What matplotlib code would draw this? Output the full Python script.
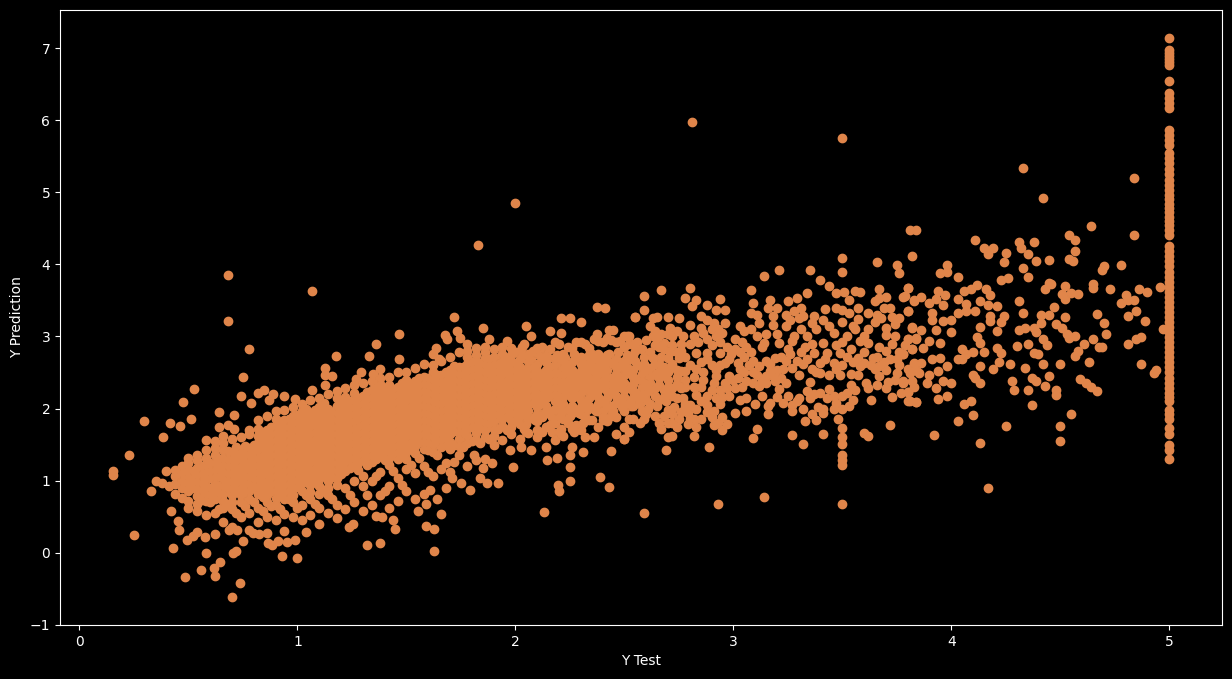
import matplotlib
matplotlib.use("Agg")
import matplotlib.pyplot as plt

# points, (y_test, y_pred)
outliers = [(0.68,3.85),(1.065,3.63),(0.68,3.22),(0.777,2.83),(1.177,2.73),(0.75,2.44),(0.524,2.27),(0.474,2.09),
    (0.298,1.82),(0.414,1.80),(0.46,1.76),(0.51,1.86),(0.383,1.61),(0.226,1.36),(0.153,1.14),(0.153,1.08),(0.396,1.13),
    (0.35,1.0),(0.377,0.97),(0.41,0.92),(0.327,0.85),(0.42,0.58),(0.25,0.25),(0.43,0.07),(0.485,-0.34),(0.556,-0.24),
    (0.58,0.0),(0.615,-0.21),(0.643,-0.13),(0.62,-0.33),(0.735,-0.42),(0.70,-0.615),(0.75,0.16),(0.705,0.0),(0.717,0.02),
    (0.93,-0.04),(1.0,-0.08),(0.865,0.13),(0.885,0.11),(0.91,0.16),(0.95,0.15),(0.99,0.18),(1.04,0.29),(0.575,0.22),
    (0.495,0.18),(0.52,0.23),(0.54,0.29),(0.62,0.26),(0.455,0.32),(0.45,0.44),(0.685,0.32),(0.725,0.32),(0.795,0.28),
    (0.825,0.26),(0.74,2.18),(0.785,2.08),(0.82,2.22),(0.845,2.25),(0.89,2.2),(0.87,2.12),(0.94,2.17),(0.99,2.13),
    (1.065,2.25),(1.125,2.56),(1.125,2.46),(1.16,2.45),(1.125,2.33),(0.64,1.95),(0.71,1.91),(0.64,1.74),(0.68,1.77),
    (0.71,1.72),(0.78,1.70),(2.0,4.85),(1.83,4.27),(2.81,5.98),(3.5,5.75),(4.17,0.90),(4.97,3.10)]

upper_edge = [(1.72,3.27),(1.85,3.12),(1.73,3.08),(1.745,2.98),(1.465,3.04),(1.36,2.9),(1.33,2.73),(1.465,2.68),(1.38,2.55),
    (1.345,2.48),(1.29,2.51),(1.27,2.41),(1.675,3.02),(1.685,2.96),(1.635,2.84),(1.62,2.76),(1.65,2.68),(1.78,2.9),
    (1.88,2.96),(1.96,2.93),(2.05,3.14),(2.07,3.01),(2.04,2.9),(2.16,3.07),(2.21,3.05),(2.21,3.25),(2.25,3.25),(2.3,3.2),
    (2.375,3.41),(2.41,3.4),(2.375,3.04),(2.43,3.09),(2.45,3.09),(2.5,3.0),(2.52,3.0),(2.55,3.27)]

lower_edge = [(1.625,0.03),(1.32,0.11),(1.38,0.14),(1.625,0.33),(1.59,0.37),(1.45,0.33),(1.44,0.46),(1.255,0.4),(1.235,0.35),
    (1.66,0.53),(1.36,0.51),(1.39,0.5),(1.555,0.58),(1.59,0.68),(1.64,0.75),(1.3,0.58),(1.79,0.87),(1.68,0.9),(1.61,0.87),
    (2.13,0.57),(1.92,0.97),(1.87,0.96),(1.84,1.03),(1.99,1.19),(1.85,1.17),(2.2,0.86),(2.195,0.94),(2.25,0.99),(2.25,1.19),
    (2.39,1.05),(2.43,0.91),(2.44,1.41),(2.31,1.39),(2.145,1.28),(2.19,1.32),(2.25,1.36),(2.07,1.43),(2.025,1.47),(1.975,1.43),
    (1.81,1.36),(1.72,1.26),(1.895,1.24),(1.75,0.96),(1.71,1.03),(2.46,1.64),(2.5,1.58),(2.36,1.6),(2.32,1.61)]

mid_cloud = [(3.81,4.48),(3.84,4.48),(2.59,3.56),(2.67,3.65),(2.80,3.67),(2.78,3.53),(2.83,3.51),(2.88,3.44),(2.94,3.52),(2.96,3.37),
    (2.81,3.42),(2.59,3.37),(2.55,3.27),(2.63,3.26),(2.65,3.27),(2.70,3.27),(2.75,3.26),(2.62,3.14),(2.71,3.12),(2.80,3.16),
    (2.85,3.28),(2.88,3.23),(2.92,3.37),(2.91,3.19),(2.96,3.19),(2.85,3.12),(3.08,3.65),(3.14,3.84),(3.21,3.92),(3.35,3.92),
    (3.50,4.09),(3.50,3.90),(3.66,4.03),(3.75,3.99),(3.76,3.88),(3.82,4.12),(3.40,3.78),(3.44,3.70),(3.47,3.60),(3.34,3.60),
    (3.25,3.49),(3.29,3.53),(3.17,3.51),(3.20,3.40),(3.16,3.40),(3.09,3.47),(3.08,3.33),(3.11,3.30),(3.18,3.28),(3.18,3.16),
    (3.03,3.14),(3.05,3.07),(3.26,3.23),(3.24,3.14),(3.31,3.40),(3.32,3.28),(3.37,3.28),(3.41,3.23),(3.42,3.38),(3.47,3.40),
    (3.50,3.37),(3.53,3.33),(3.51,3.62),(3.53,3.51),(3.56,3.63),(3.58,3.62),(3.57,3.40),(3.57,3.24),(3.62,3.33),(3.62,3.10),
    (3.67,3.66),(3.65,3.49),(3.67,3.53),(3.70,3.55),(3.69,3.40),(3.72,3.40),(3.68,3.26),(3.76,3.26),(3.74,3.17),(3.80,3.67),
    (3.78,3.55),(3.83,3.51),(3.80,3.35),(3.82,3.13),(3.80,2.97),(3.84,2.98),(3.70,3.02),(3.73,2.89),(3.82,2.83),(3.78,2.76),
    (3.75,2.69),(3.72,2.68),(3.64,2.70),(3.60,3.00),(3.62,2.91),(3.67,2.59),(3.60,2.63),(3.57,2.46),(3.61,2.35),(3.62,2.29),
    (3.67,2.45),(3.70,2.54),(3.75,2.49),(3.83,2.63),(3.85,2.49),(3.78,2.35),(3.70,2.29),(3.80,2.23),(3.73,2.16),(3.80,2.10),
    (3.84,2.09),(3.63,2.12),(3.72,1.77),(3.60,1.66),(3.62,1.62),(3.50,1.73),(3.50,1.61),(3.50,1.51),(3.50,1.35),(3.50,1.29),
    (3.50,1.22),(3.50,0.68),(3.48,1.86),(3.41,1.65),(3.32,1.51),(3.27,1.63),(3.11,1.72),(3.09,1.59),(3.14,0.77),(2.93,0.68),
    (2.59,0.55),(2.89,1.47),(2.69,1.42),(2.82,1.62),(2.70,1.61),(2.72,1.62),(2.50,1.58),(2.52,1.67),(2.95,1.70),(2.97,1.79),
    (2.91,1.77),(2.95,1.88),(2.90,1.88),(3.01,1.94),(3.06,1.97),(3.16,1.92),(3.17,2.08),(3.16,2.03),(3.13,2.17),(3.06,2.15),
    (3.03,2.12),(3.10,2.06),(3.23,2.08),(3.27,1.96),(3.27,2.05),(3.32,1.99),(3.33,1.83),(3.38,1.84),(3.41,1.94),(3.41,1.99),
    (3.46,1.99),(3.50,1.99),(3.55,2.12),(3.52,2.22),(3.54,2.33),(3.44,2.27),(3.40,2.22),(3.34,2.24),(3.30,2.15),(3.35,2.15),
    (3.46,2.17),(3.50,2.17),(3.21,2.27),(3.24,2.36),(3.18,2.45),(3.15,2.45),(3.20,2.54),(3.27,2.56),(3.30,2.47),(3.35,2.37),
    (3.40,2.49),(3.44,2.47),(3.49,2.47),(3.54,2.48),(3.58,2.59),(3.46,2.63),(3.40,2.63),(3.49,2.77),(3.43,2.77),(3.37,2.77),
    (3.31,2.79),(3.27,2.93),(3.34,3.00),(3.31,3.10),(3.38,3.10),(3.46,3.05),(3.52,3.00),(3.54,2.82),(3.41,2.91),(3.21,2.91),
    (3.20,3.03),(3.15,3.03),(3.11,3.00),(3.14,2.91),(3.08,2.79),(3.09,2.66),(3.12,2.59),(3.15,2.66),(3.06,2.38),(3.09,2.35),
    (3.12,2.31),(3.02,2.63),(3.01,2.82),(3.01,2.96),(3.00,2.40),(3.01,2.28),(2.98,2.17),(2.94,2.06),(2.51,3.00),(2.56,2.84),
    (2.63,3.00),(2.68,2.91),(2.72,3.00),(2.77,3.00),(2.82,3.00),(2.88,2.96),(2.92,3.00),(2.95,3.05),(2.83,2.77),(2.88,2.77),
    (2.94,2.77),(2.96,2.63),(2.92,2.54),(2.88,2.68),(2.86,2.40),(2.91,2.35),(2.94,2.26),(2.88,2.17),(2.83,2.19),(2.92,2.45),
    (2.98,2.45),(2.79,1.94),(2.85,1.85),(2.75,1.85),(2.72,1.80),(2.66,1.80),(2.67,1.71),(2.79,1.78),(2.83,1.74),(2.59,1.85),
    (2.54,1.85),(2.50,1.75)]

mid_extra = [(2.64,3.08),(2.67,3.04),(2.65,2.97),(2.70,3.03),(2.74,3.08),(2.76,2.9),(2.8,2.9),(2.84,2.92),(2.86,3.05),(2.9,3.1),
    (2.93,3.1),(2.9,2.88),(2.94,2.92),(2.97,2.85),(2.99,2.76),(2.98,2.68),(2.85,2.64),(2.9,2.6),(2.94,2.6),(2.83,2.55),
    (2.86,2.5),(2.82,2.44),(2.85,2.3),(2.82,2.3),(2.9,2.25),(2.96,2.35),(2.97,2.28),(2.92,2.14),(2.95,2.16),(2.88,2.05),
    (2.85,2.1),(2.83,2.0),(2.8,2.05),(2.78,2.02),(2.76,1.95),(2.72,1.92),(2.68,1.9),(2.64,1.9),(2.6,1.92),(2.57,1.8),
    (2.52,1.85),(2.88,1.95),(2.91,1.96),(2.82,1.86),(2.8,1.86),(2.74,1.74),(2.7,1.8),(2.93,1.8),(3.04,2.92),(3.06,2.86),
    (3.03,2.78),(3.05,2.72),(3.07,2.6),(3.03,2.55),(3.05,2.5),(3.02,2.42),(3.04,2.3),(3.09,2.5),(3.11,2.46),(3.13,2.4),
    (3.15,2.35),(3.17,2.52),(3.19,2.38),(3.22,2.42),(3.23,2.55),(3.17,2.62),(3.19,2.7),(3.22,2.72),(3.24,2.66),(3.26,2.76),
    (3.29,2.66),(3.32,2.62),(3.34,2.68),(3.36,2.55),(3.38,2.5),(3.33,2.85),(3.36,2.9),(3.28,3.0),(3.25,2.82),(3.42,2.68),
    (3.47,2.55),(3.5,2.6),(3.52,2.72),(3.55,2.64),(3.57,2.7),(3.6,2.78),(3.47,2.88),(3.5,2.92),(3.56,3.1),(3.58,2.94),
    (3.24,3.3),(3.28,3.35),(3.3,3.25),(3.36,3.18),(3.44,3.15),(3.5,3.2),(3.55,3.15),(3.65,3.2),(3.7,3.12),(3.66,3.3),
    (3.73,3.27),(3.12,3.18),(3.08,3.1),(3.13,2.85),(3.39,2.02),(3.37,2.2),(3.43,2.15),(3.47,2.08),(3.53,2.03),(3.29,2.1),
    (3.25,2.17),(3.2,2.16),(3.36,1.93),(3.56,2.25),(3.65,2.55),(3.63,2.6),(3.69,2.65),(3.76,2.6),(3.8,2.55),(3.74,2.4),
    (3.71,2.37),(3.66,2.33),(3.83,2.3),(3.77,2.22),(3.76,2.78),(3.7,2.8),(3.67,2.85),(3.79,2.88),(3.66,2.72),(3.74,3.0)]

# thicker band between 2 and 2.8
band_extra = [(2.0,2.78),(2.03,2.86),(2.08,2.8),(2.12,2.86),(2.16,2.82),(2.2,2.9),(2.24,2.86),(2.28,2.92),(2.32,2.9),(2.36,2.96),
    (2.4,2.92),(2.44,2.95),(2.48,2.94),(2.52,2.9),(2.56,2.92),(2.6,2.95),(2.64,2.88),(2.68,2.82),(2.72,2.88),(2.76,2.8),
    (2.03,2.72),(2.07,2.68),(2.11,2.74),(2.15,2.7),(2.19,2.74),(2.23,2.7),(2.27,2.75),(2.31,2.7),(2.35,2.76),(2.39,2.72),
    (2.43,2.76),(2.47,2.78),(2.51,2.74),(2.55,2.8),(2.59,2.72),(2.63,2.7),(2.67,2.72),(2.71,2.78),(2.75,2.7),(2.35,2.6),
    (2.4,2.68),(2.47,2.56),(2.51,2.58),(2.55,2.66),(2.59,2.62),(2.64,2.62),(2.68,2.58),(2.72,2.62),(2.76,2.52),(2.8,2.6),
    (2.05,1.78),(2.09,1.84),(2.13,1.94),(2.17,1.88),(2.21,1.96),(2.25,1.9),(2.29,1.94),(2.33,1.98),(2.37,1.96),(2.41,2.0),
    (2.45,1.96),(2.49,2.02),(2.53,2.04),(2.57,2.06),(2.61,2.0),(2.65,2.03),(2.69,2.1),(2.73,2.02),(2.77,2.14),(2.56,2.14),
    (2.6,2.22),(2.64,2.18),(2.68,2.26),(2.72,2.18),(2.76,2.28),(2.62,2.44),(2.66,2.52),(2.7,2.3),(2.74,2.44),(2.78,2.4),
    (2.58,2.3),(2.54,2.14),(2.5,2.08),(2.05,1.68),(2.1,1.7),(2.17,1.68),(2.21,1.72),(2.27,1.68),(2.31,1.8),(2.35,1.84),
    (2.4,1.84),(2.44,1.9),(1.9,2.72),(1.94,2.86),(1.98,2.74),(1.86,2.78),(1.82,2.74),(1.78,2.8)]

right_cloud = [(4.33,5.34),(4.84,5.20),(4.42,4.92),(4.84,4.41),(4.64,4.53),(4.11,4.34),(4.15,4.23),(4.17,4.14),(4.19,4.23),(4.25,4.16),
    (4.24,4.03),(4.31,4.31),(4.32,4.22),(4.35,4.15),(4.38,4.31),(4.39,4.05),(4.45,4.06),(4.33,3.95),(4.35,3.83),(4.54,4.40),
    (4.57,4.34),(4.57,4.19),(4.54,4.08),(4.56,4.05),(4.70,3.98),(4.69,3.92),(4.78,3.99),(3.98,3.99),(3.95,3.88),(3.98,3.89),
    (4.03,3.83),(4.23,3.78),(4.26,3.81),(4.45,3.74),(4.43,3.66),(4.46,3.73),(4.52,3.70),(4.51,3.59),(4.52,3.52),(4.55,3.60),
    (4.58,3.59),(4.65,3.73),(4.65,3.67),(4.73,3.66),(4.86,3.66),(4.90,3.62),(4.96,3.68),(4.80,3.58),(4.78,3.47),(4.84,3.51),
    (4.81,3.51),(4.85,3.35),(4.81,3.28),(4.89,3.22),(4.67,3.31),(4.70,3.19),(4.71,3.03),(4.65,2.97),(4.68,2.85),(4.69,2.85),
    (4.81,2.90),(4.85,2.97),(4.87,2.99),(4.87,2.62),(4.94,2.54),(4.93,2.49),(4.63,2.65),(4.61,2.89),(4.58,2.80),(4.57,2.73),
    (4.50,2.62),(4.42,2.62),(4.34,2.56),(4.27,2.62),(4.22,2.65),(4.19,2.55),(4.13,2.59),(4.10,2.79),(4.15,2.79),(4.05,2.83),
    (4.07,2.75),(4.03,2.69),(4.05,2.68),(4.21,2.84),(4.23,2.77),(4.30,2.87),(4.35,2.90),(4.38,2.77),(4.40,2.76),(4.42,2.97),
    (4.44,2.88),(4.31,3.49),(4.33,3.33),(4.41,3.30),(4.45,3.30),(4.47,3.41),(4.52,3.27),(4.48,3.17),(4.51,3.12),(4.53,3.03),
    (4.54,2.98),(4.57,3.00),(4.41,3.18),(4.38,3.12),(4.39,3.06),(4.34,3.11),(4.31,3.09),(4.21,3.08),(4.24,3.29),(4.23,3.20),
    (4.18,3.29),(4.18,3.22),(4.13,3.13),(4.12,2.99),(4.13,2.91),(4.00,3.06),(4.00,3.23),(3.95,2.91),(3.93,3.09),(4.12,3.71),
    (4.09,3.66),(4.06,3.63),(4.03,3.52),(4.07,3.45),(4.03,3.33),(4.07,3.35),(4.11,3.35),(4.16,3.66),(4.18,3.58),(4.13,3.49),
    (4.17,3.44),(4.21,3.42),(3.94,3.63),(3.97,3.58),(3.93,3.52),(3.90,3.47),(3.91,3.33),(3.91,3.23),(3.96,3.21),(3.96,3.44),
    (3.86,3.55),(3.83,3.49),(3.80,3.67),(3.79,3.56),(3.80,3.35),(3.82,3.12),(3.86,3.09),(3.80,2.97),(3.84,2.96),(3.90,2.93),
    (3.87,2.84),(3.82,2.83),(3.78,2.75),(3.91,2.69),(3.95,2.70),(3.98,2.59),(3.94,2.52),(3.86,2.63),(3.83,2.62),(3.84,2.54),
    (3.81,2.49),(3.90,2.47),(3.78,2.38),(3.82,2.38),(3.89,2.36),(3.96,2.38),(3.93,2.29),(4.00,2.35),(3.80,2.23),(3.98,2.18),
    (3.94,2.13),(3.81,2.11),(3.84,2.09),(4.10,2.47),(4.13,2.36),(4.11,2.42),(4.28,2.38),(4.29,2.26),(4.35,2.26),(4.37,2.43),
    (4.39,2.38),(4.45,2.45),(4.43,2.31),(4.48,2.26),(4.48,2.19),(4.59,2.41),(4.62,2.35),(4.64,2.30),(4.67,2.24),(4.55,1.93),
    (4.50,1.76),(4.50,1.55),(4.37,2.05),(4.25,1.76),(4.13,1.52),(3.92,1.63),(4.03,1.83),(4.10,1.91),(4.06,2.06),(4.09,2.11)]

# capped targets, all sit at y_test = 5
capped_test = 5.0
capped_pred = [7.14,6.97,6.93,6.89,6.85,6.81,6.77,6.54,6.38,6.31,6.24,6.17,5.86,5.8,5.72,5.65,5.55,5.48,5.4,5.32,5.25,5.17,
    5.1,5.03,4.96,4.9,4.84,4.78,4.72,4.66,4.6,4.54,4.47,4.4,4.25,4.18,4.11,4.04,3.97,3.9,3.83,3.76,3.69,3.62,3.55,3.48,3.41,
    3.34,3.27,3.2,3.13,3.06,2.99,2.92,2.85,2.78,2.71,2.64,2.57,2.5,2.43,2.36,2.29,2.22,2.16,2.1,1.98,1.92,1.86,1.73,1.64,
    1.5,1.43,1.3]

# dense part of the cloud, read as columns (y_test, [y_pred...])
left_columns = [
    (0.44,[0.82,0.95,1.06,1.15]),
    (0.47,[0.76,0.9,1.0,1.1,1.2]),
    (0.50,[0.62,0.72,0.85,0.95,1.05,1.15,1.25,1.32]),
    (0.54,[0.58,0.68,0.78,0.88,0.98,1.08,1.18,1.28,1.36]),
    (0.58,[0.52,0.72,0.82,0.92,1.02,1.12,1.22,1.32,1.42,1.56]),
    (0.62,[0.55,0.75,0.85,0.95,1.05,1.15,1.25,1.35,1.45,1.55]),
    (0.66,[0.42,0.62,0.72,0.82,0.92,1.02,1.12,1.22,1.32,1.42,1.52,1.62]),
    (0.70,[0.35,0.6,0.7,0.8,0.9,1.0,1.1,1.2,1.3,1.4,1.58]),
    (0.74,[0.5,0.7,0.8,0.9,1.0,1.1,1.2,1.3,1.4,1.6]),
    (0.78,[0.32,0.55,0.75,0.85,0.95,1.05,1.15,1.25,1.35,1.45,1.64]),
    (0.82,[0.42,0.62,0.82,0.92,1.02,1.12,1.22,1.32,1.42,1.52,1.62,1.72,1.84]),
    (0.86,[0.28,0.5,0.7,0.8,0.9,1.0,1.1,1.2,1.3,1.4,1.5,1.6,1.7,1.9]),
    (0.90,[0.46,0.66,0.76,0.86,0.96,1.06,1.16,1.26,1.36,1.46,1.56,1.66,1.76,1.86,1.96]),
    (0.94,[0.3,0.54,0.74,0.84,0.94,1.04,1.14,1.24,1.34,1.44,1.54,1.64,1.74,1.84,1.98]),
    (0.98,[0.5,0.7,0.8,0.9,1.0,1.1,1.2,1.3,1.4,1.5,1.6,1.7,1.8,1.9,2.02]),
    (1.02,[0.45,0.66,0.86,0.96,1.06,1.16,1.26,1.36,1.46,1.56,1.66,1.76,1.86,1.96,2.06]),
    (1.06,[0.52,0.74,0.84,0.94,1.04,1.14,1.24,1.34,1.44,1.54,1.64,1.74,1.84,1.94,2.12]),
    (1.10,[0.4,0.62,0.82,0.92,1.02,1.12,1.22,1.32,1.42,1.52,1.62,1.72,1.82,1.92,2.02,2.14]),
    (1.14,[0.55,0.8,0.9,1.0,1.1,1.2,1.3,1.4,1.5,1.6,1.7,1.8,1.9,2.0,2.2]),
    (1.18,[0.48,0.66,0.94,1.04,1.14,1.24,1.34,1.44,1.54,1.64,1.74,1.84,1.94,2.04,2.14,2.24]),
]

core_columns = [
    (1.22,[0.6,0.9,1.14,1.26,1.36,1.46,1.56,1.66,1.76,1.86,1.96,2.06,2.16,2.28]),
    (1.26,[0.7,1.0,1.22,1.32,1.42,1.52,1.62,1.72,1.82,1.92,2.02,2.12,2.22,2.32]),
    (1.30,[0.92,1.06,1.28,1.38,1.48,1.58,1.68,1.78,1.88,1.98,2.08,2.18,2.36]),
    (1.34,[0.66,1.0,1.26,1.36,1.46,1.56,1.66,1.76,1.86,1.96,2.06,2.16,2.26,2.38]),
    (1.38,[0.8,1.12,1.34,1.44,1.54,1.64,1.74,1.84,1.94,2.04,2.14,2.24,2.34,2.42]),
    (1.42,[0.62,0.92,1.22,1.32,1.42,1.52,1.62,1.72,1.82,1.92,2.02,2.12,2.22,2.32,2.44]),
    (1.46,[0.72,1.04,1.3,1.4,1.5,1.6,1.7,1.8,1.9,2.0,2.1,2.2,2.3,2.5]),
    (1.50,[0.86,1.16,1.3,1.4,1.5,1.6,1.7,1.8,1.9,2.0,2.1,2.2,2.3,2.4,2.5]),
    (1.54,[0.74,1.1,1.38,1.48,1.58,1.68,1.78,1.88,1.98,2.08,2.18,2.28,2.38,2.56]),
    (1.58,[0.82,1.2,1.44,1.54,1.64,1.74,1.84,1.94,2.04,2.14,2.24,2.34,2.44,2.62]),
    (1.62,[1.06,1.4,1.5,1.6,1.7,1.8,1.9,2.0,2.1,2.2,2.3,2.4,2.5,2.6]),
    (1.66,[1.16,1.46,1.56,1.66,1.76,1.86,1.96,2.06,2.16,2.26,2.36,2.46,2.66]),
    (1.70,[1.12,1.44,1.54,1.64,1.74,1.84,1.94,2.04,2.14,2.24,2.34,2.44,2.54,2.72]),
    (1.74,[1.36,1.48,1.58,1.68,1.78,1.88,1.98,2.08,2.18,2.28,2.38,2.48,2.58,2.78]),
    (1.78,[1.2,1.52,1.62,1.72,1.82,1.92,2.02,2.12,2.22,2.32,2.42,2.52,2.62,2.72]),
    (1.82,[1.28,1.56,1.66,1.76,1.86,1.96,2.06,2.16,2.26,2.36,2.46,2.56,2.66,2.84]),
    (1.86,[1.3,1.6,1.7,1.8,1.9,2.0,2.1,2.2,2.3,2.4,2.5,2.6,2.7,2.86]),
    (1.90,[1.5,1.62,1.72,1.82,1.92,2.02,2.12,2.22,2.32,2.42,2.52,2.62,2.82]),
    (1.94,[1.56,1.76,1.86,1.96,2.06,2.16,2.26,2.36,2.46,2.56,2.66,2.76]),
    (1.98,[1.64,1.74,1.84,1.94,2.04,2.14,2.24,2.34,2.44,2.54,2.64,2.84]),
]

upper_columns = [
    (2.02,[1.58,1.78,1.88,1.98,2.08,2.18,2.28,2.38,2.48,2.58,2.68,2.8]),
    (2.06,[1.66,1.86,1.96,2.06,2.16,2.26,2.36,2.46,2.56,2.66,2.76]),
    (2.10,[1.6,1.82,1.92,2.02,2.12,2.22,2.32,2.42,2.52,2.62,2.84]),
    (2.14,[1.46,1.74,1.94,2.04,2.14,2.24,2.34,2.44,2.54,2.64,2.74]),
    (2.18,[1.56,1.8,2.0,2.1,2.2,2.3,2.4,2.5,2.6,2.7,2.92]),
    (2.22,[1.62,1.86,1.96,2.06,2.16,2.26,2.36,2.46,2.56,2.66,2.76]),
    (2.26,[1.46,1.72,1.94,2.04,2.14,2.24,2.34,2.44,2.54,2.64,2.84]),
    (2.30,[1.7,1.92,2.02,2.12,2.22,2.32,2.42,2.52,2.62,2.72,2.92]),
    (2.34,[1.84,2.04,2.14,2.24,2.34,2.44,2.54,2.64,2.74,2.84]),
    (2.38,[1.74,1.96,2.06,2.16,2.26,2.36,2.46,2.56,2.66,2.76,2.94]),
    (2.42,[1.82,2.04,2.14,2.24,2.34,2.44,2.54,2.64,2.74,2.98]),
    (2.46,[1.88,2.08,2.18,2.28,2.38,2.48,2.58,2.68,2.92]),
    (2.50,[1.96,2.16,2.26,2.36,2.46,2.56,2.66,2.86]),
    (2.54,[2.04,2.24,2.34,2.44,2.54,2.74,2.9]),
    (2.58,[1.96,2.18,2.38,2.48,2.58,2.82]),
    (2.62,[2.06,2.26,2.36,2.56,2.78]),
    (2.66,[2.12,2.32,2.42,2.62,2.86]),
    (2.70,[1.98,2.2,2.4,2.5,2.7]),
    (2.74,[2.14,2.34,2.54,2.78]),
    (2.78,[2.06,2.3,2.52,2.72]),
]

# in-between columns, these close the gaps in the thick of the cloud
fill_left = [
    (0.52,[0.9,1.0,1.13]),
    (0.56,[0.73,0.87,0.97,1.09,1.2]),
    (0.60,[0.7,0.8,0.9,1.03,1.14,1.24]),
    (0.64,[0.6,0.83,0.93,1.06,1.17,1.3]),
    (0.68,[0.67,0.88,0.98,1.09,1.2,1.29,1.41]),
    (0.72,[0.55,0.85,0.97,1.05,1.16,1.27,1.36,1.46]),
    (0.76,[0.65,0.86,0.96,1.07,1.17,1.26,1.37,1.48]),
    (0.80,[0.7,0.9,1.02,1.11,1.2,1.3,1.41,1.5]),
    (0.84,[0.58,0.77,0.87,0.96,1.08,1.18,1.27,1.36,1.47,1.57,1.67]),
    (0.88,[0.65,0.86,0.95,1.05,1.15,1.25,1.35,1.45,1.55,1.65,1.75]),
    (0.92,[0.6,0.81,0.91,1.01,1.1,1.21,1.31,1.41,1.5,1.61,1.71,1.81]),
    (0.96,[0.75,0.85,0.95,1.05,1.15,1.25,1.35,1.45,1.55,1.65,1.75,1.85]),
    (1.00,[0.62,0.91,1.01,1.11,1.21,1.31,1.41,1.51,1.61,1.71,1.81,1.91]),
    (1.04,[0.8,1.0,1.1,1.2,1.3,1.4,1.5,1.6,1.7,1.8,1.9,2.0]),
    (1.08,[0.68,0.98,1.08,1.18,1.28,1.38,1.48,1.58,1.68,1.78,1.88,1.98]),
    (1.12,[0.87,1.07,1.17,1.27,1.37,1.47,1.57,1.67,1.77,1.87,1.97,2.07]),
    (1.16,[0.75,1.05,1.15,1.25,1.35,1.45,1.55,1.65,1.75,1.85,1.95]),
    (1.20,[1.09,1.19,1.29,1.39,1.49,1.59,1.69,1.79,1.89,1.99,2.09]),
]

fill_core = [
    (1.24,[0.8,1.18,1.3,1.41,1.51,1.61,1.71,1.81,1.91,2.01,2.11]),
    (1.28,[1.15,1.25,1.35,1.45,1.55,1.65,1.75,1.85,1.95,2.05,2.15]),
    (1.32,[0.8,1.22,1.33,1.43,1.53,1.63,1.73,1.83,1.93,2.03,2.13,2.23]),
    (1.36,[1.06,1.3,1.4,1.5,1.6,1.7,1.8,1.9,2.0,2.1,2.2,2.3]),
    (1.40,[0.85,1.29,1.39,1.49,1.59,1.69,1.79,1.89,1.99,2.09,2.19,2.29]),
    (1.44,[1.14,1.37,1.47,1.57,1.67,1.77,1.87,1.97,2.07,2.17,2.27]),
    (1.48,[0.94,1.35,1.45,1.55,1.65,1.75,1.85,1.95,2.05,2.15,2.25,2.35]),
    (1.52,[1.22,1.44,1.54,1.64,1.74,1.84,1.94,2.04,2.14,2.24,2.34]),
    (1.56,[1.32,1.53,1.63,1.73,1.83,1.93,2.03,2.13,2.23,2.33,2.43]),
    (1.60,[1.12,1.42,1.52,1.62,1.72,1.82,1.92,2.02,2.12,2.22,2.32,2.42]),
    (1.64,[1.36,1.57,1.67,1.77,1.87,1.97,2.07,2.17,2.27,2.37,2.47]),
    (1.68,[1.25,1.5,1.6,1.7,1.8,1.9,2.0,2.1,2.2,2.3,2.4,2.5]),
    (1.72,[1.49,1.69,1.79,1.89,1.99,2.09,2.19,2.29,2.39,2.49,2.59]),
    (1.76,[1.46,1.67,1.77,1.87,1.97,2.07,2.17,2.27,2.37,2.47,2.57]),
    (1.80,[1.55,1.75,1.85,1.95,2.05,2.15,2.25,2.35,2.45,2.55,2.65]),
    (1.84,[1.52,1.73,1.83,1.93,2.03,2.13,2.23,2.33,2.43,2.53,2.63]),
    (1.88,[1.58,1.78,1.88,1.98,2.08,2.18,2.28,2.38,2.48,2.58,2.68]),
    (1.92,[1.71,1.91,2.01,2.11,2.21,2.31,2.41,2.51,2.61]),
    (1.96,[1.7,1.9,2.0,2.1,2.2,2.3,2.4,2.5,2.6,2.7]),
    (2.00,[1.83,1.93,2.03,2.13,2.23,2.33,2.43,2.53,2.63]),
]

fill_upper = [
    (2.04,[1.72,1.92,2.02,2.12,2.22,2.32,2.42,2.52]),
    (2.08,[1.87,2.07,2.17,2.27,2.37,2.47,2.57]),
    (2.12,[1.67,1.88,2.08,2.18,2.28,2.38,2.48,2.68]),
    (2.16,[1.77,1.97,2.17,2.27,2.37,2.47,2.57]),
    (2.20,[1.68,1.88,2.08,2.18,2.28,2.38,2.48,2.68]),
    (2.24,[1.8,2.0,2.2,2.3,2.4,2.5,2.6]),
    (2.28,[1.77,1.98,2.18,2.28,2.38,2.48,2.68]),
    (2.32,[1.88,2.08,2.28,2.38,2.48,2.58]),
    (2.36,[2.0,2.2,2.3,2.4,2.5,2.7]),
    (2.40,[1.89,2.1,2.3,2.4,2.5,2.6]),
    (2.44,[2.03,2.23,2.33,2.43,2.63]),
    (2.48,[2.11,2.31,2.41,2.61]),
    (2.52,[2.09,2.29,2.49,2.69]),
    (2.56,[2.21,2.41,2.61]),
    (2.60,[2.12,2.32,2.52]),
    (2.64,[2.28,2.48]),
    (2.68,[2.16,2.46]),
    (2.72,[2.28,2.59]),
]

y_test = []
y_pred = []
for group in [outliers, upper_edge, lower_edge, mid_cloud, mid_extra, band_extra, right_cloud]:
    for a, b in group:
        y_test.append(a)
        y_pred.append(b)
for group in [left_columns, core_columns, upper_columns, fill_left, fill_core, fill_upper]:
    for a, vals in group:
        for b in vals:
            y_test.append(a)
            y_pred.append(b)
for b in capped_pred:
    y_test.append(capped_test)
    y_pred.append(b)

plt.style.use('dark_background')
fig, ax = plt.subplots(figsize=(12.32, 6.79), dpi=100)
fig.subplots_adjust(left=60/1232, right=1222/1232, top=1-10/679, bottom=1-625/679)
ax.scatter(y_test, y_pred, color='#E0854A')
ax.set_xlabel('Y Test')
ax.set_ylabel('Y Prediction')
fig.savefig('out.png', dpi=100)
